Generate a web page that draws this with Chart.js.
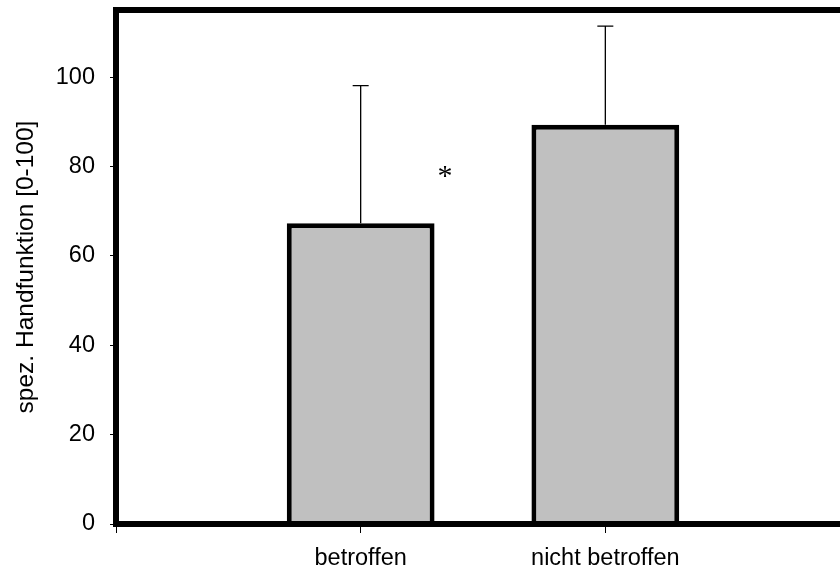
<!DOCTYPE html>
<html>
<head>
<meta charset="utf-8">
<script src="https://cdn.jsdelivr.net/npm/chart.js@4"></script>
<style>
  html, body { margin: 0; padding: 0; background: #fff; overflow: hidden; }
  #wrap { width: 840px; height: 572px; overflow: hidden; }
  #chart { display: block; }
</style>
</head>
<body>
<div id="wrap"><canvas id="chart" width="870" height="572"></canvas></div>
<script>
// categories (empty slots at both ends, like the original axis)
const categories = ['', 'betroffen', 'nicht betroffen', ''];
const means = [null, 67.3, 89.3, null];
const errUp = [null, 30.8, 22.1, null];
const yTickValues = [0, 20, 40, 60, 80, 100];
const yMax = 115;
const yTitle = 'spez. Handfunktion [0-100]';
// significance mark, in data units (category index, value)
const stars = [{ x: 1.345, y: 78.6, text: '*' }];

const FONT = "'Liberation Sans', Arial, sans-serif";

const errorBars = {
    id: 'errorBars',
    afterDatasetsDraw(chart) {
        const ctx = chart.ctx;
        const x = chart.scales.x, y = chart.scales.y;
        ctx.save();
        ctx.strokeStyle = '#000';
        ctx.lineWidth = 1.3;
        means.forEach((m, i) => {
            if (m == null) return;
            const px = x.getPixelForValue(i);
            const y0 = y.getPixelForValue(m);
            const y1 = y.getPixelForValue(m + errUp[i]);
            ctx.beginPath();
            ctx.moveTo(px, y0);
            ctx.lineTo(px, y1);
            ctx.moveTo(px - 8, y1);
            ctx.lineTo(px + 8, y1);
            ctx.stroke();
        });
        // asterisk
        ctx.fillStyle = '#000';
        ctx.font = "30px 'Liberation Serif', 'Times New Roman', serif";
        ctx.textAlign = 'center';
        ctx.textBaseline = 'alphabetic';
        stars.forEach(s => {
            ctx.fillText(s.text, x.getPixelForValue(s.x), y.getPixelForValue(s.y) + 12);
        });
        ctx.restore();
    },
    afterDraw(chart) {
        // frame line on top
        const {ctx, chartArea} = chart;
        ctx.save();
        ctx.strokeStyle = '#000';
        ctx.lineWidth = 6;
        ctx.beginPath();
        ctx.moveTo(chartArea.left - 3, chartArea.top);
        ctx.lineTo(chartArea.right + 3, chartArea.top);
        ctx.stroke();
        ctx.restore();
    }
};

new Chart(document.getElementById('chart'), {
    type: 'bar',
    data: {
        labels: categories,
        datasets: [{
            data: means,
            backgroundColor: '#c0c0c0',
            borderColor: '#000',
            borderWidth: 5,
            barPercentage: 0.604,
            categoryPercentage: 1
        }]
    },
    options: {
        responsive: false,
        animation: false,
        layout: { padding: { top: 10, right: 20, left: 0, bottom: 0 } },
        plugins: {
            legend: { display: false },
            tooltip: { enabled: false }
        },
        scales: {
            x: {
                offset: false,
                afterFit: s => { s.height = 48; s.paddingLeft = 0; s.paddingRight = 0; },
                grid: {
                    offset: false,
                    drawOnChartArea: false,
                    drawTicks: true,
                    tickLength: 9,
                    tickColor: '#000',
                    tickWidth: 1
                },
                border: { display: true, color: '#000', width: 6, z: 1 },
                ticks: {
                    color: '#000',
                    font: { family: FONT, size: 23.5 },
                    padding: 11,
                    maxRotation: 0,
                    autoSkip: false
                }
            },
            y: {
                min: 0,
                max: yMax,
                afterFit: s => { s.width = 116; s.paddingTop = 0; s.paddingBottom = 0; },
                afterBuildTicks: s => { s.ticks = yTickValues.map(v => ({ value: v })); },
                grid: {
                    drawOnChartArea: false,
                    drawTicks: true,
                    tickLength: 6,
                    tickColor: '#000',
                    tickWidth: 1
                },
                border: { display: true, color: '#000', width: 6, z: 1 },
                ticks: {
                    color: '#000',
                    font: { family: FONT, size: 23.5 },
                    padding: 15
                },
                title: {
                    display: true,
                    text: yTitle,
                    color: '#000',
                    font: { family: FONT, size: 24.5 },
                    padding: { top: 12, bottom: 0 }
                }
            }
        }
    },
    plugins: [errorBars]
});
</script>
</body>
</html>
